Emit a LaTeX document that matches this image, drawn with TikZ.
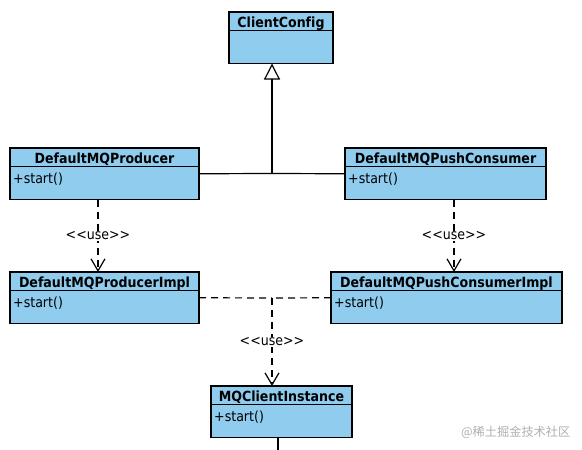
\documentclass[tikz,border=0pt]{standalone}
\usepackage{fontspec}
\setmainfont{DejaVu Sans Condensed}[Ligatures=NoCommon]
\newfontfamily\cjkfont{Noto Sans CJK SC}
\usetikzlibrary{arrows.meta,calc}
\definecolor{boxblue}{RGB}{143,204,238}
\definecolor{wmgray}{RGB}{175,175,175}
\tikzset{
  classbox/.style={draw, line width=1.3pt, fill=boxblue, rectangle, inner sep=0pt, outer sep=0pt, minimum height=51.5pt},
  boxline/.style={line width=1.3pt},
  titletext/.style={inner sep=0pt, anchor=base, font=\fontsize{14}{16}\selectfont\bfseries},
  optext/.style={inner sep=0pt, anchor=base west, font=\fontsize{14}{16}\selectfont},
  genline/.style={line width=1.2pt},
  depline/.style={line width=1.2pt, dash pattern=on 7pt off 5pt},
  usetip/.style={-{Straight Barb[length=12pt,width=14pt,line width=1.2pt]}},
  gentip/.style={-{Triangle[open,length=16pt,width=16pt,line width=1.2pt,fill=white]}},
  uselabel/.style={fill=white, inner sep=1pt, font=\fontsize{14}{16}\selectfont}
}
\newcommand\umlbox[6]{%
  \node[classbox, minimum width=#4pt, anchor=north west] (#1) at (#2,#3) {};
  \draw[boxline] ([yshift=-18.5pt]#1.north west) -- ([yshift=-18.5pt]#1.north east);
  \node[titletext] (#1-t) at ([yshift=-15.5pt]#1.north) {#5};
  \node[optext] (#1-o) at ([xshift=3pt,yshift=-35pt]#1.north west) {#6};
}
\begin{document}
\begin{tikzpicture}[x=1pt,y=-1pt]
\path[use as bounding box] (0,0) rectangle (582,450);
\umlbox{CC}{229}{12}{104}{ClientConfig}{}
\umlbox{P}{10}{148}{189}{DefaultMQProducer}{+start()}
\umlbox{PC}{345}{148}{201}{DefaultMQPushConsumer}{+start()}
\umlbox{PI}{10}{272}{189}{DefaultMQProducerImpl}{+start()}
\umlbox{PCI}{331}{272}{231}{DefaultMQPushConsumerImpl}{+start()}
\umlbox{MQ}{211}{386}{141}{MQClientInstance}{+start()}
% generalization
\coordinate (j1) at (272,173.5);
\draw[genline] (P.east) -- (j1);
\draw[genline] (PC.west) -- (j1);
\draw[genline, gentip] (j1) -- (CC.south -| j1);
% producer use
\coordinate (pu) at (98,199.5);
\draw[depline, usetip] (pu) -- (PI.north -| pu) node[uselabel, midway] {<{}<use>{}>};
% consumer use
\coordinate (cu) at (454,199.5);
\draw[depline, usetip] (cu) -- (PCI.north -| cu) node[uselabel, midway] {<{}<use>{}>};
% impl use
\coordinate (j2) at (272,298);
\draw[depline] (PI.east) -- (j2);
\draw[depline] (PCI.west) -- (j2);
\draw[depline, usetip] (j2) -- (MQ.north -| j2) node[uselabel, midway] {<{}<use>{}>};
% stub
\coordinate (stub) at (278,450);
\draw[genline] (MQ.south -| stub) -- (stub);
% watermark
\node[text=wmgray, inner sep=0pt, anchor=west, font=\cjkfont\fontsize{12.2}{14}\selectfont] (wm) at (461,432) {@稀土掘金技术社区};
\end{tikzpicture}
\end{document}
